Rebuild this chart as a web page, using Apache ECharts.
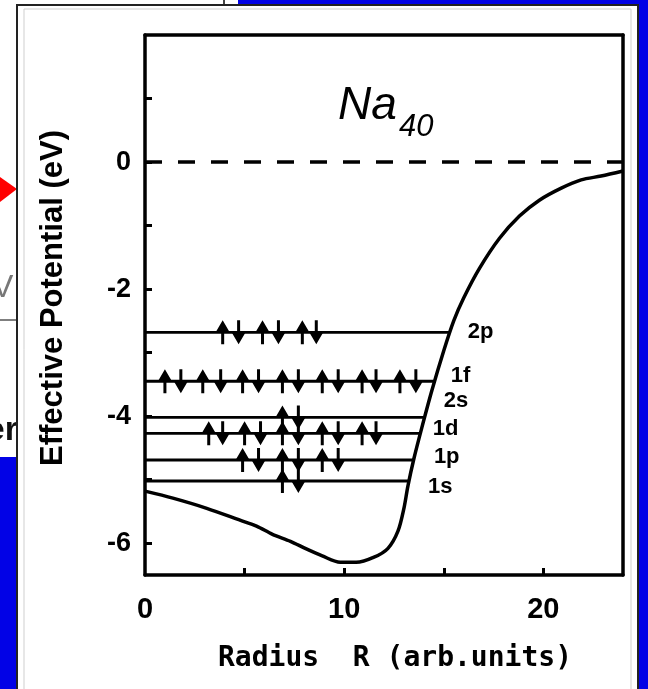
<!DOCTYPE html>
<html>
<head>
<meta charset="utf-8">
<script src="https://cdn.jsdelivr.net/npm/echarts@6/dist/echarts.min.js"></script>
<style>
html, body { margin: 0; padding: 0; background: #0202e6; }
#container { width: 648px; height: 689px; }
</style>
</head>
<body>
<div id="container"></div>
<script>
// effective potential of Na40
const radius = [0, 1.4, 3.1, 4.8, 5.6, 6.4, 7.3, 8.1, 8.9, 9.8, 10.6, 11.5, 12.2, 12.7, 13.0, 13.2, 13.5, 13.9, 14.4, 15.0, 15.5, 16.0, 16.8, 17.8, 18.8, 19.8, 20.9, 21.9, 22.9, 24.0];
const potential = [-5.18, -5.29, -5.45, -5.64, -5.73, -5.86, -5.97, -6.09, -6.2, -6.3, -6.3, -6.22, -6.08, -5.81, -5.45, -5.1, -4.67, -4.18, -3.6, -2.97, -2.5, -2.14, -1.67, -1.2, -0.85, -0.6, -0.41, -0.28, -0.22, -0.14];

// shell levels
const levelNames = ['2p', '1f', '2s', '1d', '1p', '1s'];
const levelEnergy = [-2.68, -3.45, -4.02, -4.27, -4.69, -5.02];
const levelEnd = [15.3, 14.5, 14.05, 13.85, 13.45, 13.25];
const spinUp = [
    [3.9, 5.9, 7.9],
    [1.0, 2.9, 4.9, 6.9, 8.9, 10.9, 12.8],
    [6.9],
    [3.2, 5.0, 6.9, 8.9, 10.9],
    [4.9, 6.9, 8.9],
    [6.9]
];
const spinDown = [
    [4.7, 6.7, 8.6],
    [1.8, 3.8, 5.7, 7.7, 9.7, 11.6, 13.6],
    [7.7],
    [3.9, 5.8, 7.7, 9.7, 11.6],
    [5.7, 7.7, 9.7],
    [7.7]
];

const xLabels = [0, 10, 20];
const xTicks = [5, 10, 15, 20];
const yLabels = [0, -2, -4, -6];
const yTicks = [1, 0, -1, -2, -3, -4, -5, -6];

const labelShift = [[10, 0], [9, -5], [11, -17], [4, -4], [13, -3], [11, 6]];

const upArrow = 'path://M7,0 L14,12 L8.5,12 L8.5,24 L5.5,24 L5.5,12 L0,12 Z';
const downArrow = 'path://M5.5,0 L8.5,0 L8.5,12 L14,12 L7,24 L0,12 L5.5,12 Z';

const chart = echarts.init(document.getElementById('container'));

const levelSeries = levelNames.map((name, i) => ({
    name: name,
    type: 'line',
    silent: true,
    symbol: 'none',
    data: [[0, levelEnergy[i]], [levelEnd[i], levelEnergy[i]]],
    lineStyle: { color: '#000', width: 2.8 },
    endLabel: {
        show: true,
        formatter: '{a}',
        color: '#000',
        fontSize: 22,
        fontWeight: 'bold',
        fontFamily: 'Liberation Sans',
        offset: labelShift[i]
    },
    z: 3
}));

const ups = [];
const downs = [];
levelNames.forEach((name, i) => {
    spinUp[i].forEach(r => ups.push([r, levelEnergy[i]]));
    spinDown[i].forEach(r => downs.push([r, levelEnergy[i]]));
});

const frameAxis = {
    type: 'value',
    axisLine: { show: true, onZero: false, lineStyle: { color: '#000', width: 3.5 } },
    axisTick: { show: false },
    axisLabel: { show: false },
    splitLine: { show: false }
};

const option = {
    animation: false,
    backgroundColor: '#0202e6',
    graphic: [
        { type: 'rect', shape: { x: 0, y: 0, width: 238, height: 10 }, style: { fill: '#fff' } },
        { type: 'rect', shape: { x: 0, y: 0, width: 18, height: 457 }, style: { fill: '#fff' } },
        { type: 'line', shape: { x1: 224, y1: 0, x2: 224, y2: 6 }, style: { stroke: '#444', lineWidth: 2 } },
        { type: 'polygon', shape: { points: [[0, 177], [17, 189], [0, 202]] }, style: { fill: '#ff0000' } },
        { type: 'text', x: -8, y: 288, style: { text: 'V', font: '32px "Liberation Sans"', fill: '#777', textAlign: 'left', textVerticalAlign: 'middle', verticalAlign: 'middle' } },
        { type: 'line', shape: { x1: 0, y1: 320, x2: 17, y2: 320 }, style: { stroke: '#555', lineWidth: 1.5 } },
        { type: 'text', x: 18, y: 431, style: { text: 'er', font: 'bold 34px "Liberation Sans"', fill: '#111', textAlign: 'right', textVerticalAlign: 'middle', verticalAlign: 'middle' } },
        { type: 'rect', shape: { x: 17, y: 5, width: 621, height: 700 }, style: { fill: '#fff', stroke: '#222', lineWidth: 2 } },
        { type: 'rect', shape: { x: 24, y: 9, width: 607, height: 690 }, style: { fill: 'none', stroke: '#cfcfcf', lineWidth: 1 } },
        { type: 'text', x: 338, y: 106, style: { text: 'Na', font: 'italic 46px "Liberation Sans"', fill: '#000', textAlign: 'left', textVerticalAlign: 'middle', verticalAlign: 'middle' } },
        { type: 'text', x: 399, y: 127, style: { text: '40', font: 'italic 31px "Liberation Sans"', fill: '#000', textAlign: 'left', textVerticalAlign: 'middle', verticalAlign: 'middle' } }
    ],
    grid: { left: 145, right: 25, top: 35, bottom: 114 },
    xAxis: [
        {
            type: 'value',
            min: 0,
            max: 24,
            position: 'bottom',
            axisLine: { show: true, onZero: false, lineStyle: { color: '#000', width: 3.5 } },
            axisTick: { show: true, inside: true, length: 7, customValues: xTicks, lineStyle: { color: '#000', width: 3 } },
            axisLabel: { customValues: xLabels, color: '#000', fontSize: 29, fontWeight: 'bold', fontFamily: 'Liberation Sans', margin: 20 },
            splitLine: { show: false },
            name: 'Radius  R (arb.units)',
            nameLocation: 'middle',
            nameGap: 70,
            nameTextStyle: { color: '#000', fontSize: 28, fontWeight: 'bold', fontFamily: 'DejaVu Sans Mono', padding: [0, 0, 0, 22] }
        },
        Object.assign({}, frameAxis, { min: 0, max: 24, position: 'top' })
    ],
    yAxis: [
        {
            type: 'value',
            min: -6.5,
            max: 2,
            position: 'left',
            axisLine: { show: true, onZero: false, lineStyle: { color: '#000', width: 3.5 } },
            axisTick: { show: true, inside: true, length: 7, customValues: yTicks, lineStyle: { color: '#000', width: 3 } },
            axisLabel: { customValues: yLabels, color: '#000', fontSize: 27, fontWeight: 'bold', fontFamily: 'Liberation Sans', margin: 14 },
            splitLine: { show: false },
            name: 'Effective Potential (eV)',
            nameLocation: 'middle',
            nameRotate: 90,
            nameGap: 76,
            nameTextStyle: { color: '#000', fontSize: 31, fontWeight: 'bold', fontFamily: 'Liberation Sans', padding: [0, 0, 0, 14] }
        },
        Object.assign({}, frameAxis, { min: -6.5, max: 2, position: 'right' })
    ],
    series: [
        {
            name: 'zero',
            type: 'line',
            silent: true,
            symbol: 'none',
            data: [[0, 0], [24, 0]],
            lineStyle: { color: '#000', width: 3.5, type: [17, 16] }
        },
        {
            name: 'potential',
            type: 'line',
            silent: true,
            symbol: 'none',
            smooth: 0.3,
            data: radius.map((r, i) => [r, potential[i]]),
            lineStyle: { color: '#000', width: 3.5 },
            z: 4
        },
        ...levelSeries,
        {
            name: 'spin up',
            type: 'scatter',
            silent: true,
            symbol: upArrow,
            symbolSize: [14, 24],
            data: ups,
            itemStyle: { color: '#000', opacity: 1 },
            z: 5
        },
        {
            name: 'spin down',
            type: 'scatter',
            silent: true,
            symbol: downArrow,
            symbolSize: [14, 24],
            data: downs,
            itemStyle: { color: '#000', opacity: 1 },
            z: 5
        }
    ]
};

chart.setOption(option);
</script>
</body>
</html>
